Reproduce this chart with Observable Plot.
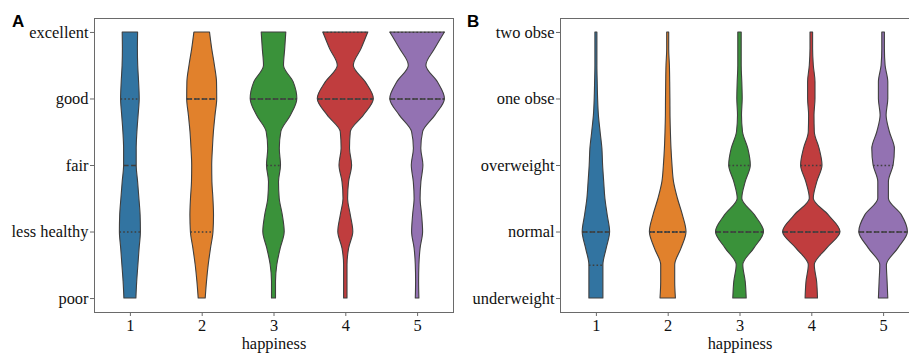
<!DOCTYPE html>
<html>
<head>
<meta charset="utf-8">
<script src="https://cdn.jsdelivr.net/npm/d3@7"></script>
<script src="https://cdn.jsdelivr.net/npm/@observablehq/plot@0.6"></script>
<style>
  html, body { margin: 0; padding: 0; background: #fff; }
  body { width: 909px; height: 354px; overflow: hidden; position: relative; }
  #panelA, #panelB { position: absolute; top: 0; }
  #panelA { left: 0; width: 460px; }
  #panelB { left: 460px; width: 470px; }
  #panelA svg, #panelB svg { max-width: none !important; display: block; }
  .tag { position: absolute; font: bold 17px/17px "Liberation Sans", Arial, sans-serif; color: #000; }
</style>
</head>
<body>
<div id="panelA"></div>
<div id="panelB"></div>
<div class="tag" style="left:12px; top:12.6px">A</div>
<div class="tag" style="left:467px; top:12.6px">B</div>
<script>
// ---------- data ----------
const happiness = [1, 2, 3, 4, 5];
const healthLabels = ["poor", "less healthy", "fair", "good", "excellent"];
const bmiLabels = ["underweight", "normal", "overweight", "one obse", "two obse"];
// y sampling levels of the violin outlines (0 = lowest category, 4 = highest)
const yGrid = [0, 0.25, 0.5, 0.75, 1, 1.25, 1.5, 1.75, 2, 2.25, 2.5, 2.75, 3, 3.25, 3.5, 3.75, 4];

// violin half-widths (relative density), one array per happiness level
const healthDensity1 = [6, 6.8, 8, 9.2, 10.5, 10.2, 9, 7.7, 6.3, 6.3, 7, 8.2, 9.3, 8.7, 7.8, 7.5, 7.7];
const healthDensity2 = [3.5, 4.8, 6.5, 8.8, 11.3, 11.8, 11.2, 10.2, 10, 10.7, 11.7, 13.3, 15, 14.8, 12.7, 10, 7.8];
const healthDensity3 = [2, 2, 3.3, 6.7, 10.7, 8.8, 5.7, 5, 7, 5.8, 7.3, 17, 23.3, 19.7, 10, 11.2, 12.3];
const healthDensity4 = [1.7, 1.7, 1.7, 3.3, 7.5, 5, 2.3, 3.3, 6.3, 4.2, 5, 18, 28, 20, 8, 15.7, 22.5];
const healthDensity5 = [1.8, 1.5, 1.8, 3, 5.5, 4.5, 3, 3.8, 5.8, 3.7, 5.5, 17.8, 27.3, 20.3, 8.8, 17.5, 27.3];

const bmiDensity1 = [7, 7, 7, 10.3, 13.7, 11.3, 9, 7.8, 6.7, 6, 4.2, 2.5, 1.7, 1.3, 1, 1, 1];
const bmiDensity2 = [7.7, 7, 7, 13.3, 18.3, 14.7, 9.7, 5.8, 4.3, 3.3, 2.7, 2.3, 2.2, 2, 1.7, 1, 1];
const bmiDensity3 = [6.7, 5.7, 3.3, 14.3, 24, 15, 2.3, 5.7, 10.8, 8.3, 3, 2, 2.7, 2.3, 1.7, 1.7, 1.7];
const bmiDensity4 = [6.2, 5.3, 3, 15.3, 28.7, 17, 2, 5.5, 10.7, 7.8, 3, 2.7, 3.7, 3.7, 2, 1.3, 1.3];
const bmiDensity5 = [4.7, 4, 3.3, 14.7, 24.3, 18.3, 5.3, 5.3, 10, 11.3, 6.3, 3, 4.7, 4.7, 2, 1.3, 1.3];

// quartiles (inner="quartile")
const healthQ1 = [1, 1, 2, 3, 3];
const healthMedian = [2, 3, 3, 3, 3];
const healthQ3 = [3, 3, 3, 4, 4];
const bmiQ1 = [0.5, 1, 1, 1, 1];
const bmiMedian = [1, 1, 1, 1, 1];
const bmiQ3 = [1, 1, 2, 2, 2];

const palette = ["#3274a1", "#e1812c", "#3a923a", "#c03d3e", "#9372b2"];

// ---------- helpers ----------
const K = 0.4 / 28.7; // density -> category units (max half width 0.4)
const outline = "#3f3f3f";

function violinRows(densities) {
  const rows = [];
  densities.forEach((arr, i) => {
    arr.forEach((w, j) => rows.push({cat: happiness[i], y: yGrid[j], w}));
  });
  return rows;
}
function quartRows(densities, vals) {
  return vals.map((y, i) => {
    const j = yGrid.indexOf(y);
    return {cat: happiness[i], y, w: densities[i][j]};
  });
}

function panel(densities, labels, q1, med, q3, opts) {
  const rows = violinRows(densities);
  return Plot.plot({
    width: opts.width,
    height: 354,
    marginLeft: opts.marginLeft,
    marginRight: opts.marginRight,
    marginTop: 18,
    marginBottom: 42,
    style: {fontFamily: "'Liberation Serif', 'Times New Roman', serif", fontSize: "16.4px", color: "#111", background: "transparent", maxWidth: "none"},
    x: {domain: [0.5, 5.5]},
    y: {domain: [-0.21, 4.21]},
    color: {domain: happiness, range: palette},
    marks: [
      Plot.areaX(rows, {
        y: "y",
        x1: d => d.cat - d.w * K,
        x2: d => d.cat + d.w * K,
        z: "cat",
        fill: "cat",
        stroke: outline,
        strokeWidth: 1.1,
        curve: "monotone-y"
      }),
      Plot.ruleY(quartRows(densities, q1), {y: "y", x1: d => d.cat - d.w * K, x2: d => d.cat + d.w * K, stroke: outline, strokeWidth: 1.3, strokeDasharray: "1.6,2.2"}),
      Plot.ruleY(quartRows(densities, q3), {y: "y", x1: d => d.cat - d.w * K, x2: d => d.cat + d.w * K, stroke: outline, strokeWidth: 1.3, strokeDasharray: "1.6,2.2"}),
      Plot.ruleY(quartRows(densities, med), {y: "y", x1: d => d.cat - d.w * K, x2: d => d.cat + d.w * K, stroke: outline, strokeWidth: 1.3, strokeDasharray: "5,2.5"}),
      Plot.frame({stroke: "#6a6a6a", strokeWidth: 1}),
      Plot.axisY({ticks: [0, 1, 2, 3, 4], tickFormat: i => labels[i], tickSize: 4, tickPadding: 2, stroke: "#6a6a6a", fill: "#111", label: null}),
      Plot.axisX({ticks: happiness, tickFormat: d => String(d), tickSize: 4, tickPadding: 3, stroke: "#6a6a6a", fill: "#111", label: null}),
      Plot.text(["happiness"], {frameAnchor: "bottom", lineAnchor: "middle", dy: 31, fill: "#111", fontSize: 16.4})
    ]
  });
}

document.getElementById("panelA").append(
  panel([healthDensity1, healthDensity2, healthDensity3, healthDensity4, healthDensity5], healthLabels,
        healthQ1, healthMedian, healthQ3, {width: 460, marginLeft: 94, marginRight: 7})
);
document.getElementById("panelB").append(
  panel([bmiDensity1, bmiDensity2, bmiDensity3, bmiDensity4, bmiDensity5], bmiLabels,
        bmiQ1, bmiMedian, bmiQ3, {width: 470, marginLeft: 100, marginRight: 11})
);
</script>
</body>
</html>
